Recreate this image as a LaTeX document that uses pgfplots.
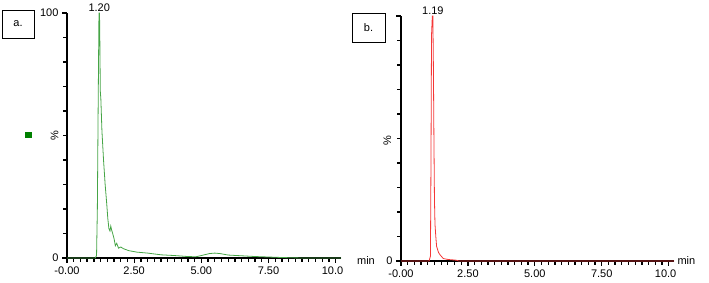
\documentclass[border=0pt]{standalone}
\usepackage{pgfplots}
\pgfplotsset{compat=1.18}
\usepackage{fontspec}
\setmainfont{Liberation Sans}
\definecolor{trgreen}{RGB}{70,165,70}
\definecolor{sqgreen}{RGB}{0,128,0}
\definecolor{trred}{RGB}{245,55,55}
\pgfplotsset{
  chrom/.style={
    scale only axis, clip=false,
    axis x line*=bottom, axis y line*=left,
    axis line style={line width=1.4pt},
    xmin=0, xmax=10.2, ymin=0, ymax=100,
    xtick={0,2.5,5,7.5,10},
    xticklabels={-0.00,2.50,5.00,7.50,{10.0\phantom{0}}},
    minor x tick num=9,
    minor y tick num=9,
    tick align=outside,
    major tick length=5pt, minor tick length=4pt,
    every tick/.append style={black, line width=1.3pt},
    tick label style={font=\fontsize{11}{12}\selectfont},
    /pgf/number format/assume math mode=true,
  }
}
\begin{document}
\begin{tikzpicture}
\path (0pt,0pt) rectangle (709pt,283pt);
% Panel a
\begin{axis}[chrom, at={(67pt,25pt)}, anchor=south west, width=274pt, height=245pt,
  ytick={0,100}, yticklabels={0,100}]
\addplot[trgreen, line width=0.8pt] coordinates {
(0,0) (1.05,0) (1.10,1) (1.13,20) (1.16,62) (1.19,100) (1.21,100) (1.22,92) (1.24,68)
(1.26,65) (1.30,52) (1.36,40) (1.42,30) (1.48,22) (1.52,16) (1.56,12) (1.60,11)
(1.63,13) (1.66,11.5) (1.70,10) (1.75,8) (1.80,5) (1.85,6) (1.92,4) (2.00,4.5)
(2.10,3.8) (2.30,3) (2.60,2.4) (3.00,2) (3.50,1.3) (4.00,1) (4.50,0.6) (4.80,0.5)
(5.00,1) (5.30,1.8) (5.50,2) (5.70,1.8) (6.00,1.2) (6.50,0.9) (7.00,0.6) (7.50,0.4)
(8.00,0.2) (8.50,0.05) (9.00,0) (10.2,0)
};
\node[font=\fontsize{11}{12}\selectfont, anchor=south, inner sep=1pt] at (axis cs:1.20,100) {1.20};
\node[font=\fontsize{11}{12}\selectfont, rotate=90] at (rel axis cs:-0.045,0.5) {\%};
\end{axis}
% Panel b
\begin{axis}[chrom, at={(401pt,22pt)}, anchor=south west, width=273pt, height=245pt,
  ytick={0,100}, yticklabels={0,{}}]
\addplot[trred, line width=0.8pt] coordinates {
(0,0) (1.05,0) (1.10,2) (1.12,40) (1.14,92) (1.17,100) (1.19,100) (1.21,80) (1.23,50)
(1.25,25) (1.27,15) (1.30,10) (1.33,6) (1.40,3.5) (1.46,2.5) (1.58,1) (1.77,0.6)
(2.00,0.4) (2.08,0.3) (2.15,0) (10.2,0)
};
\node[font=\fontsize{11}{12}\selectfont, anchor=south, inner sep=1pt] at (axis cs:1.19,100) {1.19};
\node[font=\fontsize{11}{12}\selectfont, rotate=90] at (rel axis cs:-0.05,0.49) {\%};
\node[font=\fontsize{11}{12}\selectfont, anchor=west] at (rel axis cs:1,0) {min};
\end{axis}
% decorations
\node[font=\fontsize{11}{12}\selectfont] at (366pt,22pt) {min};
\draw[black, line width=0.6pt] (2pt,245pt) rectangle (34pt,273pt);
\node[font=\fontsize{11}{12}\selectfont] at (18pt,259pt) {a.};
\draw[black, line width=0.6pt] (352pt,241pt) rectangle (385pt,270pt);
\node[font=\fontsize{11}{12}\selectfont] at (368.5pt,255.5pt) {b.};
\fill[sqgreen] (25pt,145pt) rectangle (32pt,151pt);
\end{tikzpicture}
\end{document}
